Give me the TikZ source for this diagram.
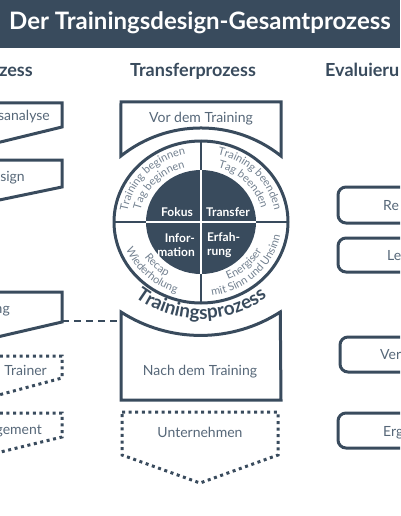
\documentclass[tikz,border=0pt]{standalone}
\usepackage{fontspec}
\setmainfont{Lato}
\usetikzlibrary{decorations.text}
\definecolor{dk}{HTML}{394B5D}
\definecolor{tx}{HTML}{566778}
\definecolor{rt}{HTML}{738190}
\newcommand\ringfont{\fontsize{11}{13}\selectfont}
\newcommand\tpfont{\bfseries\fontsize{19}{21}\selectfont}
\begin{document}
\begin{tikzpicture}[x=1pt,y=1pt,
  outl/.style={draw=dk,line width=3pt},
  dotbox/.style={draw=dk,line width=3pt,dash pattern=on 3pt off 3.6pt},
  boxtext/.style={text=tx,font=\fontsize{14}{16}\selectfont,inner sep=0pt},
  coltitle/.style={text=dk,font=\bfseries\fontsize{18}{20}\selectfont,inner sep=0pt},
  disklabel/.style={text=white,font=\bfseries\fontsize{12}{14}\selectfont,inner sep=0pt},
  ringtext/.style={decorate,decoration={text along path,text align=center,text color=rt,text={|\ringfont|#1}}},
]
\useasboundingbox (0,0) rectangle (400,-516);
\clip (0,0) rectangle (400,-516);

% header
\fill[dk] (0,0) rectangle (400,-48);
\node[text=white,font=\bfseries\fontsize{24}{26}\selectfont,inner sep=0pt,anchor=base] (title) at (200,-29.5) {Der Trainingsdesign-Gesamtprozess};

\node[coltitle,anchor=base east] (h1) at (33,-77) {zess};
\node[coltitle,anchor=base] (h2) at (193,-77) {Transferprozess};
\node[coltitle,anchor=base west] (h3) at (325,-77) {Evaluieru};

% left column
\draw[outl] (-20,-103) -- (62,-103) -- (62,-127) -- (-20,-147) -- cycle;
\node[boxtext,anchor=base east] (l1) at (50,-121) {sanalyse};
\draw[outl] (-20,-160) -- (62,-160) -- (62,-187) -- (-20,-204) -- cycle;
\node[boxtext,anchor=base east] (l2) at (25,-181) {sign};
\draw[outl] (-20,-292) -- (62,-292) -- (62,-322) -- (-20,-341) -- cycle;
\node[boxtext,anchor=base east] (l3) at (10,-313) {ng};
\draw[dotbox] (-20,-356) -- (62,-356) -- (62,-378) -- (-20,-400) -- cycle;
\node[boxtext,anchor=base east] (l4) at (47,-375) {. Trainer};
\draw[dotbox] (-20,-413) -- (62,-413) -- (62,-437) -- (-20,-457) -- cycle;
\node[boxtext,anchor=base east] (l5) at (42,-434) {gement};

% dashed connector
\coordinate (da) at (62,-321);
\coordinate (db) at (121,-321);
\draw[dk,line width=2pt,dash pattern=on 7pt off 5pt] (da) -- (db);

% center column: top box
\draw[outl] (121,-102) -- (281,-102) -- (281,-156) arc[start angle=51.4,end angle=128.6,radius=128.3] -- cycle;
\node[boxtext,anchor=base] (vor) at (201,-122) {Vor dem Training};

% circle
\coordinate (C) at (201,-222);
\begin{scope}[shift={(C)}]
  \draw[dk,line width=2.5pt] (-87,0) -- (87,0) (0,81) -- (0,-81);
  \fill[dk] (0,0) ellipse[x radius=55,y radius=52];
  \draw[white,line width=2.5pt] (-55,0) -- (55,0) (0,52) -- (0,-52);
  \draw[dk,line width=3pt] (0,0) ellipse[x radius=87,y radius=81];
  \node[disklabel] (fokus) at (-24,10) {Fokus};
  \node[disklabel] (transfer) at (27,10) {Transfer};
  \node[disklabel,anchor=east,align=right] (info) at (-6,-23) {Infor-\\mation};
  \node[disklabel,anchor=west,align=left] (erf) at (6,-23) {Erfah-\\rung};
  % ring texts
  \path[ringtext={Training beginnen}] (184:74.5 and 69) arc[start angle=184,end angle=90,x radius=74.5,y radius=69];
  \path[ringtext={Tag beginnen}] (184:62 and 56.5) arc[start angle=184,end angle=90,x radius=62,y radius=56.5];
  \path[ringtext={Training beenden}] (90:74.5 and 69) arc[start angle=90,end angle=-4,x radius=74.5,y radius=69];
  \path[ringtext={Tag beenden}] (90:62 and 56.5) arc[start angle=90,end angle=-4,x radius=62,y radius=56.5];
  \path[ringtext={Recap}] (180:68.5 and 63) arc[start angle=180,end angle=272,x radius=68.5,y radius=63];
  \path[ringtext={Wiederholung}] (180:80.5 and 74.5) arc[start angle=180,end angle=272,x radius=80.5,y radius=74.5];
  \path[ringtext={Energiser}] (268:68.5 and 63) arc[start angle=268,end angle=360,x radius=68.5,y radius=63];
  \path[ringtext={mit Sinn und Unsinn}] (268:80.5 and 74.5) arc[start angle=268,end angle=360,x radius=80.5,y radius=74.5];
  \path[decorate,decoration={text along path,text align=center,text color=dk,text={|\tpfont|Trainingsprozess}}]
    (210:104 and 97) arc[start angle=210,end angle=330,x radius=104,y radius=97];
\end{scope}

% bottom box
\draw[outl] (121,-312) arc[start angle=237.2,end angle=302.8,radius=147] -- (281,-400) -- (121,-400) -- cycle;
\node[boxtext,anchor=base] (nach) at (200,-375) {Nach dem Training};

% dotted chevron
\draw[dotbox] (122,-412) -- (278,-412) -- (278,-455) -- (200,-483) -- (122,-455) -- cycle;
\node[boxtext,anchor=base] (unt) at (200,-437) {Unternehmen};

% right column
\draw[outl,rounded corners=8pt] (338,-187) rectangle (490,-223);
\node[boxtext,anchor=base west] (r1) at (383,-210) {Re};
\draw[outl,rounded corners=8pt] (338,-238) rectangle (490,-272);
\node[boxtext,anchor=base west] (r2) at (387,-260) {Le};
\draw[outl,rounded corners=8pt] (340,-337) rectangle (490,-372);
\node[boxtext,anchor=base west] (r3) at (380,-359) {Ver};
\draw[outl,rounded corners=8pt] (338,-413) rectangle (490,-448);
\node[boxtext,anchor=base west] (r4) at (383,-436) {Erg};
\end{tikzpicture}
\end{document}
